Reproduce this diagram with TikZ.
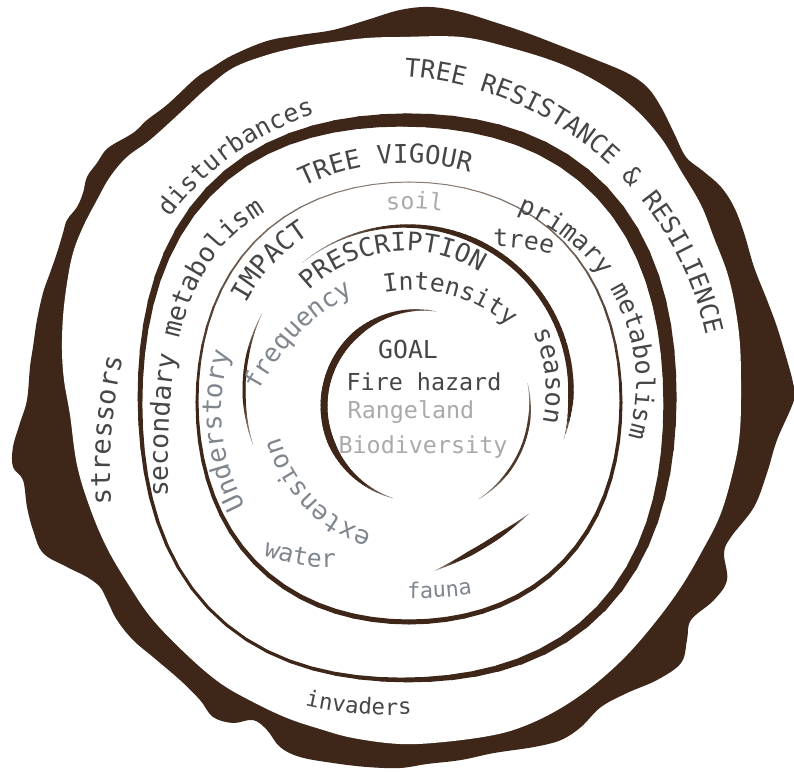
\documentclass[tikz,border=0pt]{standalone}
\usepackage{fontspec}
\setmainfont{DejaVu Sans Mono}
\usepackage{tikz}
\usetikzlibrary{decorations.text}

\definecolor{barkbrown}{RGB}{62,38,24}
\definecolor{ringgray}{RGB}{178,172,166}
\definecolor{txtdark}{RGB}{70,70,70}
\definecolor{txtmid}{RGB}{128,134,142}
\definecolor{txtlight}{RGB}{170,170,170}

% ring shape: centre x, centre y, x radius, y radius, bulge at the diagonals
\newcommand\setring[5]{\def\rcx{#1}\def\rcy{#2}\def\rra{#3}\def\rrb{#4}\def\rrq{#5}}
% piece of a ring: from, to, mean width, wave width, wave phase, taper-in rate, taper-out rate (px)
\newcommand\ringarc[7]{%
  \foreach \k in {1,...,72}{%
    \pgfmathsetmacro\angA{#1+(#2-#1)/72*(\k-1)}%
    \pgfmathsetmacro\angB{#1+(#2-#1)/72*\k}%
    \pgfmathsetmacro\segfrac{(\k-0.5)/72}%
    \pgfmathsetmacro\segw{max(0,#3+#4*cos((\angA+\angB)/2-#5))*min(1,\segfrac*#6)*min(1,(1-\segfrac)*#7)}%
    \pgfmathsetmacro\segpt{\segw*0.5669}%
    \pgfmathsetmacro\segpc{min(100,35*\segw)}%
    \pgfmathsetmacro\ptka{1+\rrq*sin(2*\angA)*sin(2*\angA)}%
    \pgfmathsetmacro\ptkb{1+\rrq*sin(2*\angB)*sin(2*\angB)}%
    \pgfmathsetmacro\ptxa{\rcx+\rra*\ptka*cos(\angA)}%
    \pgfmathsetmacro\ptya{\rcy+\rrb*\ptka*sin(\angA)}%
    \pgfmathsetmacro\ptxb{\rcx+\rra*\ptkb*cos(\angB)}%
    \pgfmathsetmacro\ptyb{\rcy+\rrb*\ptkb*sin(\angB)}%
    \ifdim\segw pt>0.2pt
      \draw[line width=\segpt pt, line cap=round, draw=barkbrown!\segpc!ringgray]
        (\ptxa,\ptya) -- (\ptxb,\ptyb);
    \fi
  }}

\begin{document}
\begin{tikzpicture}[x=0.02cm, y=0.02cm,
    ringtext/.style n args={3}{decorate, decoration={text along path,
        text color=#2, text={|\fontsize{#1}{#1}\selectfont|#3}}},
    goaltext/.style={font=\fontsize{13.3}{13.3}\selectfont, text=txtdark, inner sep=0pt},
]
\useasboundingbox (0,0) rectangle (794,771);
\fill[white] (0,0) rectangle (794,771);

% =====================================================================
% BARK
% =====================================================================
\fill[barkbrown] plot[smooth cycle, tension=0.6] coordinates {
  (400,761) (430,764) (461,759) (494,749) (527,738) (561,725) (594,712)
  (627,698) (647,684) (661,664) (674,638) (686,614) (703,600) (721,584)
  (734,564) (744,538) (754,504) (767,471) (777,444) (787,411) (793,388)
  (794,371) (777,331) (767,298) (754,264) (731,234) (724,218) (727,191)
  (714,171) (691,151) (687,131) (681,108) (657,91) (627,78) (601,64)
  (581,44) (561,31) (534,24) (494,18) (461,11) (427,7) (400,3) (367,4)
  (333,8) (300,14) (280,24) (267,41) (253,51) (233,48) (213,54) (200,71)
  (180,91) (153,114) (133,131) (117,151) (107,171) (100,184) (87,194)
  (67,204) (43,218) (33,241) (27,264) (23,291) (13,304) (13,324) (20,348)
  (27,371) (30,404) (33,424) (37,451) (43,478) (50,498) (57,518) (63,538)
  (67,551) (77,564) (83,578) (87,594) (97,608) (108,623) (133,638)
  (147,651) (168,667) (196,693) (213,704) (233,716) (267,730) (300,736)
  (333,741) (367,751)};
\fill[white] plot[smooth cycle, tension=0.6] coordinates {
  (400,734) (461,734) (511,723) (561,707) (601,687) (634,663) (661,633)
  (681,600) (701,566) (714,533) (727,499) (735,465) (740,426) (741,381)
  (740,341) (735,308) (721,258) (701,218) (681,184) (657,151) (627,116)
  (594,86) (561,63) (527,46) (494,36) (444,29) (400,27) (353,33) (320,42)
  (287,53) (253,69) (220,88) (187,116) (153,151) (130,184) (107,223)
  (90,263) (77,306) (70,356) (64,391) (62,421) (63,454) (67,488) (73,518)
  (83,544) (97,571) (110,594) (127,614) (150,631) (180,658) (207,683)
  (233,703) (267,716) (300,724) (333,729) (367,733)};

% =====================================================================
% RINGS
% =====================================================================
% tree vigour ring
\setring{405}{371}{265}{280}{0.05}
\ringarc{0}{360}{9}{6}{45}{1000}{1000}
% soil ring
\setring{409}{369}{212}{220}{0.03}
\ringarc{0}{360}{3}{2}{270}{1000}{1000}
% short arc left of frequency
\setring{415}{381}{171}{171}{0}
\ringarc{152}{200}{3}{0}{0}{2.86}{2.86}
% prescription ring, ends beside season
\setring{406}{380}{165}{165}{0}
\ringarc{131}{-17}{5.5}{0}{0}{2.22}{10}
% spiral pieces round the goal
\setring{420}{365}{96}{96}{0}
\ringarc{78}{256}{7}{0}{0}{3.33}{3.33}
\setring{420}{365}{110}{110}{0}
\ringarc{14}{-60}{2.5}{0}{0}{3.33}{3.33}
\setring{274}{572}{405}{405}{0}
\ringarc{-50.7}{-66.8}{5}{0}{0}{2.86}{2.86}

% =====================================================================
% TEXT ON THE RINGS
% =====================================================================
% outer band
\path[ringtext={14.4}{txtdark}{TREE RESISTANCE {\&} RESILIENCE}, shift={(383.5,365)}]
  (86.4:330) arc[start angle=86.4, end angle=0, radius=330];
\path[ringtext={14.3}{txtdark}{disturbances}, shift={(405,376)}]
  (143:295) arc[start angle=143, end angle=90, radius=295];
\path[ringtext={15.5}{txtdark}{stressors}, shift={(600,301)}]
  (184:490) arc[start angle=184, end angle=160, radius=490];
\path[ringtext={12.7}{txtdark}{invaders}, shift={(390.5,442)}]
  (257.2:386) arc[start angle=257.2, end angle=285, radius=386];

% vigour band
\path[ringtext={14.7}{txtdark}{TREE VIGOUR}, shift={(405,376)}]
  (116:232) arc[start angle=116, end angle=60, radius=232];
\path[ringtext={15}{txtdark}{secondary metabolism}]
  (168,274) .. controls (165,440) and (188,525) .. (290,572);
\path[ringtext={14.5}{txtdark}{primary metabolism}, shift={(453,387.5)}]
  (69.5:183) arc[start angle=69.5, end angle=-40, radius=183];

% impact band
\path[ringtext={13.2}{txtlight}{soil}, shift={(410,371)}]
  (97:191) arc[start angle=97, end angle=60, radius=191];
\path[ringtext={14.1}{txtdark}{tree}] (493,524) to[bend left=10] (565,512);
\path[ringtext={15}{txtdark}{IMPACT}, shift={(410,380)}]
  (152:186) arc[start angle=152, end angle=100, radius=186];
\path[ringtext={15}{txtmid}{Understory}]
  plot[domain=212:140, samples=40, variable=\t]
  ({415+(200-(212-\t)*0.2)*cos(\t)}, {371+(200-(212-\t)*0.2)*sin(\t)});
\path[ringtext={14.6}{txtmid}{extension}, shift={(415,371)}]
  (252:140) arc[start angle=252, end angle=180, radius=140];
\path[ringtext={14.1}{txtmid}{water}] (263,216) to[bend right=12] (350,205);
\path[ringtext={12.4}{txtmid}{fauna}] (407,173) to[bend right=5] (480,178);

% prescription band
\path[ringtext={14.6}{txtdark}{PRESCRIPTION}, shift={(406,380)}]
  (134:140) arc[start angle=134, end angle=40, radius=140];
\path[ringtext={14.1}{txtdark}{Intensity}, shift={(411,331)}]
  (100.3:150) arc[start angle=100.3, end angle=20, radius=150];
\path[ringtext={14.6}{txtdark}{season}, shift={(406,380)}]
  (25:140) arc[start angle=25, end angle=-40, radius=140];
\path[ringtext={14.6}{txtmid}{frequency}] (258,379) to[bend left=17] (366,484);

% =====================================================================
% GOAL
% =====================================================================
\node[goaltext, font=\fontsize{14.1}{14.1}\selectfont] (goal) at (408,422) {GOAL};
\node[goaltext] (fire) at (424,389) {Fire hazard};
\node[goaltext, text=txtlight] (range) at (411,359) {Rangeland};
\node[goaltext, text=txtlight] (biodiv) at (423,324) {Biodiversity};

\end{tikzpicture}
\end{document}
